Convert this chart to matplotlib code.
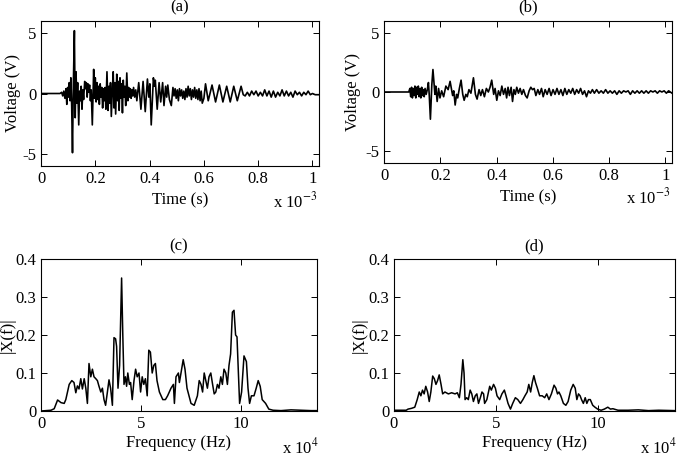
import numpy as np
import matplotlib
matplotlib.use("Agg")
import matplotlib.pyplot as plt

plt.rcParams['font.family'] = ['Liberation Serif', 'DejaVu Serif']
plt.rcParams['mathtext.fontset'] = 'stix'
plt.rcParams['font.size'] = 12
plt.rcParams['axes.unicode_minus'] = False

# (a) time signal, peaks/troughs (time in ms, volts)
t_a = [0.000, 0.070, 0.076, 0.080, 0.084, 0.088, 0.092, 0.095, 0.098, 0.101,
       0.104, 0.107, 0.110, 0.113, 0.116, 0.119, 0.123, 0.126, 0.129, 0.132,
       0.135, 0.139, 0.142, 0.145, 0.148, 0.151, 0.154, 0.157, 0.161, 0.164,
       0.167, 0.170, 0.173, 0.176, 0.179, 0.182, 0.185, 0.189, 0.194, 0.197,
       0.200, 0.203, 0.206, 0.209, 0.212, 0.215, 0.218, 0.221, 0.224, 0.227,
       0.230, 0.233, 0.236, 0.239, 0.243, 0.247, 0.250, 0.253, 0.256, 0.259,
       0.263, 0.266, 0.269, 0.272, 0.275, 0.279, 0.282, 0.285, 0.288, 0.291,
       0.294, 0.297, 0.300, 0.303, 0.306, 0.309, 0.312, 0.316, 0.320, 0.323,
       0.326, 0.329, 0.332, 0.335, 0.338, 0.341, 0.345, 0.349, 0.353, 0.360,
       0.368, 0.376, 0.384, 0.392, 0.397, 0.401, 0.406, 0.414, 0.418, 0.421,
       0.428, 0.435, 0.441, 0.448, 0.453, 0.459, 0.463, 0.467, 0.473, 0.480,
       0.486, 0.490, 0.494, 0.498, 0.502, 0.506, 0.510, 0.514, 0.518, 0.522,
       0.526, 0.530, 0.534, 0.538, 0.542, 0.546, 0.550, 0.554, 0.558, 0.562,
       0.566, 0.570, 0.574, 0.578, 0.582, 0.586, 0.590, 0.594, 0.600, 0.606,
       0.616, 0.630, 0.643, 0.657, 0.670, 0.684, 0.697, 0.710, 0.723, 0.737,
       0.745, 0.752, 0.760, 0.768, 0.776, 0.784, 0.792, 0.800, 0.808, 0.816,
       0.824, 0.832, 0.840, 0.848, 0.856, 0.864, 0.872, 0.880, 0.888, 0.896,
       0.904, 0.912, 0.920, 0.928, 0.936, 0.944, 0.952, 0.960, 0.968, 0.976,
       0.984, 0.992, 1.000, 1.010, 1.024]
v_a = [0.0, 0.0, 0.1, -0.2, 0.2, -0.4, 0.4, -0.9, 0.5, -0.3,
       0.9, -0.6, 1.3, -1.0, -4.9, 0.5, 5.2, -2.0, 1.8, -0.8,
       0.9, -2.6, 0.2, -0.6, 0.6, -1.3, 0.3, -0.5, 1.0, 0.4,
       0.9, -0.3, 0.8, 0.1, 0.7, -0.6, 0.3, -2.6, 2.0, -0.4,
       1.3, -0.7, 0.9, -0.5, 0.6, -0.9, 0.8, -0.3, 0.5, -1.2,
       0.4, -0.6, 0.5, -1.3, 1.8, -1.4, 0.6, -0.8, 0.9, -1.9,
       0.4, 1.8, -1.2, 0.9, -1.7, 1.6, -0.6, 1.0, -1.4, 1.3,
       -0.4, 0.8, -1.6, 1.1, -0.3, 0.6, -1.0, 1.7, -0.6, 0.5,
       -0.3, 0.4, -0.4, 0.3, -0.2, 0.5, -0.3, 0.3, -0.6, 0.9,
       -1.3, 1.0, -1.5, 1.2, -0.3, 0.8, -2.6, 1.3, 0.6, 1.1,
       -1.3, 0.9, -0.7, 0.9, -1.0, 0.6, -0.3, 0.7, -0.5, -1.0,
       0.5, -0.2, 0.4, -0.4, 0.3, -0.6, 0.4, -0.2, 0.3, -0.4,
       0.2, -0.5, 0.4, -0.3, 0.6, -0.2, 0.4, -0.5, 0.3, -0.3,
       0.5, -0.4, 0.3, -0.5, 0.4, -0.6, 0.2, -0.8, -0.4, 0.8,
       -0.6, 0.7, -0.7, 0.7, -0.7, 0.6, -0.7, 0.6, -0.6, 0.6,
       -0.1, -0.2, 0.1, -0.2, 0.2, -0.1, 0.2, -0.2, 0.1, -0.2,
       0.3, -0.2, 0.2, -0.3, 0.2, -0.3, 0.1, -0.2, 0.3, -0.2,
       0.2, -0.2, 0.1, -0.3, 0.2, -0.1, 0.1, -0.2, 0.1, -0.1,
       0.2, -0.1, 0.0, -0.1, -0.1]

# (b) time signal (ms, volts)
t_b = [0.000, 0.088, 0.092, 0.095, 0.098, 0.101, 0.104, 0.107, 0.110, 0.113,
       0.116, 0.119, 0.122, 0.125, 0.128, 0.131, 0.134, 0.137, 0.140, 0.143,
       0.146, 0.150, 0.154, 0.158, 0.161, 0.165, 0.170, 0.174, 0.178, 0.181,
       0.184, 0.189, 0.194, 0.199, 0.205, 0.212, 0.220, 0.228, 0.235, 0.244,
       0.248, 0.253, 0.258, 0.262, 0.268, 0.274, 0.280, 0.285, 0.291, 0.296,
       0.302, 0.309, 0.318, 0.325, 0.331, 0.338, 0.344, 0.350, 0.357, 0.364,
       0.371, 0.377, 0.383, 0.390, 0.395, 0.401, 0.407, 0.413, 0.419, 0.425,
       0.431, 0.436, 0.441, 0.446, 0.452, 0.457, 0.462, 0.467, 0.472, 0.478,
       0.484, 0.490, 0.496, 0.503, 0.509, 0.516, 0.522, 0.528, 0.534, 0.540,
       0.547, 0.553, 0.560, 0.566, 0.573, 0.580, 0.587, 0.594, 0.601, 0.608,
       0.615, 0.622, 0.629, 0.636, 0.643, 0.650, 0.657, 0.664, 0.671, 0.678,
       0.685, 0.692, 0.699, 0.706, 0.713, 0.720, 0.727, 0.734, 0.741, 0.748,
       0.756, 0.764, 0.772, 0.780, 0.788, 0.796, 0.804, 0.812, 0.820, 0.828,
       0.836, 0.844, 0.852, 0.860, 0.868, 0.876, 0.884, 0.892, 0.900, 0.908,
       0.916, 0.924, 0.932, 0.940, 0.948, 0.956, 0.964, 0.972, 0.980, 0.988,
       0.996, 1.004, 1.012, 1.024]
v_b = [0.0, 0.0, 0.3, -0.4, 0.4, -0.5, 0.3, -0.3, 0.5, -0.5,
       0.4, -0.2, 0.5, -0.4, 0.3, -0.5, 0.4, -0.3, 0.2, -0.4,
       0.3, -0.2, 0.2, 0.8, -0.3, -2.3, 0.6, 1.9, 0.7, -0.2,
       0.5, -0.8, 0.3, -0.5, 0.1, -0.4, 0.5, 0.2, 0.9, -0.3,
       0.1, -1.1, -0.2, -0.5, 0.3, 1.0, -0.2, -0.7, -0.2, -0.4,
       0.2, -0.1, 1.2, -0.2, -0.6, 0.2, -0.3, 0.2, -0.4, 0.3,
       0.0, 0.4, 1.0, -0.2, 0.3, -0.7, 0.1, -0.3, 0.5, -0.2,
       0.3, -0.5, 0.4, -0.3, 0.4, -0.8, 0.2, -0.2, 0.4, -0.1,
       0.3, -0.2, 0.2, -0.3, -0.5, 0.1, 0.4, 0.2, 0.3, -0.3,
       0.2, -0.2, 0.3, -0.4, 0.2, -0.2, 0.3, -0.3, 0.2, -0.2,
       0.3, -0.2, 0.2, -0.3, 0.3, -0.2, 0.2, -0.1, 0.3, -0.2,
       0.2, -0.1, 0.3, -0.2, 0.1, -0.4, 0.1, -0.1, 0.2, -0.1,
       0.2, -0.1, 0.1, -0.1, 0.2, -0.1, 0.1, -0.1, 0.1, -0.2,
       0.1, -0.1, 0.1, 0.0, 0.1, -0.2, 0.1, -0.1, 0.1, -0.1,
       0.1, -0.1, 0.1, -0.1, 0.1, 0.0, 0.1, -0.1, 0.1, 0.0,
       0.1, -0.1, 0.1, -0.1]

# (c) spectrum of (a): frequency in 1e4 Hz, |X(f)|
f_c = [0.0, 0.5, 0.66, 0.83, 1.0, 1.16, 1.24, 1.41, 1.54, 1.65,
       1.74, 1.82, 1.9, 1.99, 2.07, 2.16, 2.24, 2.32, 2.4, 2.49,
       2.57, 2.65, 2.74, 2.82, 2.9, 2.99, 3.07, 3.15, 3.23, 3.32,
       3.4, 3.48, 3.57, 3.65, 3.73, 3.78, 3.85, 3.93, 4.03, 4.09,
       4.15, 4.22, 4.28, 4.34, 4.42, 4.48, 4.56, 4.65, 4.73, 4.81,
       4.9, 4.98, 5.06, 5.14, 5.22, 5.31, 5.39, 5.47, 5.56, 5.64,
       5.72, 5.8, 5.92, 6.09, 6.22, 6.33, 6.5, 6.62, 6.67, 6.75,
       6.87, 6.92, 7.0, 7.11, 7.2, 7.3, 7.5, 7.66, 7.82, 7.91,
       8.0, 8.08, 8.16, 8.24, 8.32, 8.4, 8.49, 8.58, 8.66, 8.74,
       8.82, 8.9, 8.99, 9.07, 9.15, 9.24, 9.32, 9.4, 9.48, 9.57,
       9.65, 9.73, 9.8, 9.87, 9.93, 10.03, 10.15, 10.27, 10.35, 10.43,
       10.52, 10.65, 10.76, 10.86, 10.96, 11.06, 11.23, 11.39, 11.6, 12.0,
       12.5, 13.0, 13.5, 13.8]
x_c = [0.0, 0.002, 0.006, 0.029, 0.022, 0.02, 0.03, 0.07, 0.08, 0.075,
       0.048, 0.066, 0.058, 0.085, 0.058, 0.085, 0.06, 0.02, 0.125, 0.09,
       0.11, 0.09, 0.085, 0.08, 0.065, 0.05, 0.06, 0.03, 0.015, 0.05,
       0.082, 0.06, 0.015, 0.193, 0.19, 0.17, 0.06, 0.12, 0.35, 0.2,
       0.07, 0.09, 0.065, 0.1, 0.07, 0.075, 0.03, 0.08, 0.11, 0.09,
       0.1, 0.05, 0.09, 0.07, 0.085, 0.04, 0.16, 0.155, 0.1, 0.12,
       0.125, 0.08, 0.05, 0.03, 0.03, 0.04, 0.06, 0.07, 0.02, 0.09,
       0.1, 0.075, 0.1, 0.135, 0.11, 0.06, 0.02, 0.015, 0.04, 0.08,
       0.07, 0.05, 0.1, 0.08, 0.06, 0.09, 0.1, 0.07, 0.045, 0.05,
       0.07, 0.06, 0.09, 0.07, 0.11, 0.1, 0.07, 0.12, 0.15, 0.26,
       0.265, 0.2, 0.195, 0.1, 0.02, 0.05, 0.145, 0.13, 0.06, 0.02,
       0.04, 0.04, 0.06, 0.08, 0.065, 0.03, 0.02, 0.005, 0.002, 0.001,
       0.003, 0.002, 0.001, 0.001]

# (d) spectrum of (b)
f_d = [0.0, 0.6, 0.69, 0.86, 1.02, 1.14, 1.24, 1.32, 1.4, 1.48,
       1.56, 1.65, 1.73, 1.81, 1.9, 1.98, 2.06, 2.14, 2.22, 2.31,
       2.39, 2.5, 2.67, 2.83, 3.0, 3.11, 3.21, 3.29, 3.38, 3.44,
       3.49, 3.57, 3.65, 3.74, 3.82, 3.9, 3.99, 4.07, 4.15, 4.24,
       4.32, 4.4, 4.45, 4.56, 4.7, 4.78, 4.89, 4.98, 5.06, 5.19,
       5.3, 5.42, 5.5, 5.6, 5.72, 5.83, 5.96, 6.08, 6.21, 6.33,
       6.43, 6.54, 6.62, 6.71, 6.79, 6.87, 6.95, 7.04, 7.15, 7.28,
       7.4, 7.5, 7.61, 7.73, 7.86, 7.95, 8.03, 8.1, 8.19, 8.32,
       8.44, 8.55, 8.68, 8.8, 8.9, 8.98, 9.06, 9.14, 9.21, 9.3,
       9.39, 9.47, 9.55, 9.64, 9.76, 9.87, 10.0, 10.17, 10.33, 10.5,
       10.63, 10.75, 11.0, 11.5, 12.0, 12.5, 13.0, 13.8]
x_d = [0.002, 0.002, 0.005, 0.007, 0.01, 0.03, 0.05, 0.04, 0.055, 0.045,
       0.065, 0.05, 0.025, 0.05, 0.092, 0.085, 0.07, 0.08, 0.095, 0.07,
       0.045, 0.05, 0.045, 0.048, 0.045, 0.048, 0.035, 0.07, 0.135, 0.1,
       0.03, 0.035, 0.03, 0.055, 0.045, 0.025, 0.04, 0.045, 0.02, 0.035,
       0.05, 0.045, 0.02, 0.03, 0.065, 0.055, 0.07, 0.06, 0.04, 0.03,
       0.045, 0.055, 0.04, 0.02, 0.005, 0.02, 0.035, 0.03, 0.02, 0.03,
       0.04, 0.05, 0.07, 0.05, 0.075, 0.093, 0.075, 0.06, 0.04, 0.04,
       0.035, 0.045, 0.03, 0.045, 0.068, 0.06, 0.045, 0.05, 0.04, 0.02,
       0.015, 0.025, 0.055, 0.07, 0.06, 0.03, 0.045, 0.04, 0.03, 0.02,
       0.035, 0.02, 0.03, 0.03, 0.015, 0.01, 0.005, 0.002, 0.005, 0.01,
       0.005, 0.006, 0.002, 0.002, 0.003, 0.001, 0.002, 0.001]

time_ticks = [0, 0.2, 0.4, 0.6, 0.8, 1]
time_labels = ['0', '0.2', '0.4', '0.6', '0.8', '1']
freq_ticks = [0, 5, 10]
mag_ticks = [0, 0.1, 0.2, 0.3, 0.4]
mag_labels = ['0', '0.1', '0.2', '0.3', '0.4']

fig = plt.figure(figsize=(6.85, 4.62), dpi=100)

def style(ax):
    ax.tick_params(direction='in', top=True, right=True, length=4, width=0.7)
    for s in ax.spines.values():
        s.set_linewidth(0.8)

# pixel boxes: left, bottom, width, height as figure fractions
ax_a = fig.add_axes([41/685, 1 - 166/462, 278/685, 145/462])
ax_b = fig.add_axes([384/685, 1 - 163/462, 288/685, 142/462])
ax_c = fig.add_axes([41/685, 1 - 411/462, 276/685, 152/462])
ax_d = fig.add_axes([394/685, 1 - 411/462, 281/685, 152/462])

for ax, t, v, name, lx in [(ax_a, t_a, v_a, '(a)', -0.072),
                           (ax_b, t_b, v_b, '(b)', -0.08)]:
    ax.plot(t, v, color='k', lw=1.2)
    ax.set_xlim(0, 1.024)
    ax.set_ylim(-6, 6)
    ax.set_xticks(time_ticks)
    ax.set_xticklabels(time_labels)
    ax.set_yticks([-5, 0, 5])
    ax.set_xlabel('Time (s)', labelpad=4)
    ax.set_ylabel('Voltage (V)')
    ax.yaxis.set_label_coords(lx, 0.5)
    ax.set_title(name, fontsize=12, pad=7)
    ax.text(0.995, -0.245, r'x 10$^{-3}$', transform=ax.transAxes,
            ha='right', va='center', fontsize=12)
    style(ax)

for ax, f, m, name, lx in [(ax_c, f_c, x_c, '(c)', -0.092),
                           (ax_d, f_d, x_d, '(d)', -0.094)]:
    ax.plot(f, m, color='k', lw=1.1)
    ax.set_xlim(0, 13.8)
    ax.set_ylim(0, 0.4)
    ax.set_xticks(freq_ticks)
    ax.set_yticks(mag_ticks)
    ax.set_yticklabels(mag_labels)
    ax.set_xlabel('Frequency (Hz)', labelpad=2)
    ax.set_ylabel('|X(f)|')
    ax.yaxis.set_label_coords(lx, 0.5)
    ax.set_title(name, fontsize=12, pad=6)
    ax.text(1.005, -0.24, r'x 10$^{4}$', transform=ax.transAxes,
            ha='right', va='center', fontsize=12)
    style(ax)

fig.savefig('out.png', dpi=100)
